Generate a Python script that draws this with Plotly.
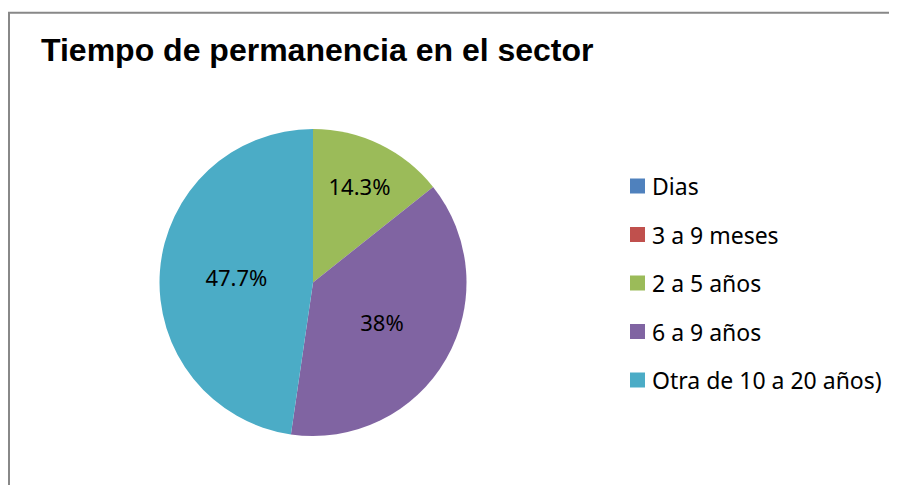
import plotly.graph_objects as go

categories = ["Dias", "3 a 9 meses", "2 a 5 años", "6 a 9 años", "Otra de 10 a 20 años)"]
values = [0, 0, 14.3, 38, 47.7]
value_labels = ["", "", "14.3%", "38%", "47.7%"]
colors = ["#4F81BD", "#C0504D", "#9BBB59", "#8064A2", "#4BACC6"]

W, H = 897, 485
OFF = 8  # page body margin


def px(x):
    return (x - OFF) / W


def py(y):
    return 1 - (y - OFF) / H


fig = go.Figure()
fig.add_trace(go.Pie(
    labels=categories,
    values=values,
    text=value_labels,
    textinfo="text",
    textposition="inside",
    insidetextorientation="horizontal",
    textfont=dict(family="Noto Sans, Open Sans, sans-serif", size=22, color="#000000"),
    marker=dict(colors=colors, line=dict(width=0)),
    sort=False,
    direction="clockwise",
    rotation=0,
    showlegend=False,
    domain=dict(x=[px(159), px(467)], y=[py(436), py(129)]),
    hoverinfo="label+percent",
))

shapes = [
    dict(type="rect", xref="paper", yref="paper",
         x0=px(9), x1=1.05, y0=-0.05, y1=py(12.75),
         line=dict(color="#888888", width=2), fillcolor="rgba(0,0,0,0)", layer="below")
]
annotations = [
    dict(text="<b>Tiempo de permanencia en el sector</b>", xref="paper", yref="paper",
         x=px(39), y=py(50), xanchor="left", yanchor="middle", showarrow=False,
         font=dict(family="Liberation Sans, Arial, sans-serif", size=32, color="#000000"))
]

leg_x = 630
leg_y0 = 186
leg_dy = 48.5
sq = 15
for i, (cat, col) in enumerate(zip(categories, colors)):
    yc = leg_y0 + i * leg_dy
    shapes.append(dict(type="rect", xref="paper", yref="paper",
                       x0=px(leg_x), x1=px(leg_x + sq),
                       y0=py(yc + sq / 2), y1=py(yc - sq / 2),
                       fillcolor=col, line=dict(width=0)))
    annotations.append(dict(text=cat, xref="paper", yref="paper",
                            x=px(leg_x + sq + 5), y=py(yc),
                            xanchor="left", yanchor="middle", showarrow=False,
                            font=dict(family="Noto Sans, Open Sans, sans-serif", size=23, color="#000000")))

fig.update_layout(
    width=W, height=H,
    margin=dict(l=0, r=0, t=0, b=0),
    paper_bgcolor="#FFFFFF",
    plot_bgcolor="#FFFFFF",
    shapes=shapes,
    annotations=annotations,
)

fig.write_html("out.html")
